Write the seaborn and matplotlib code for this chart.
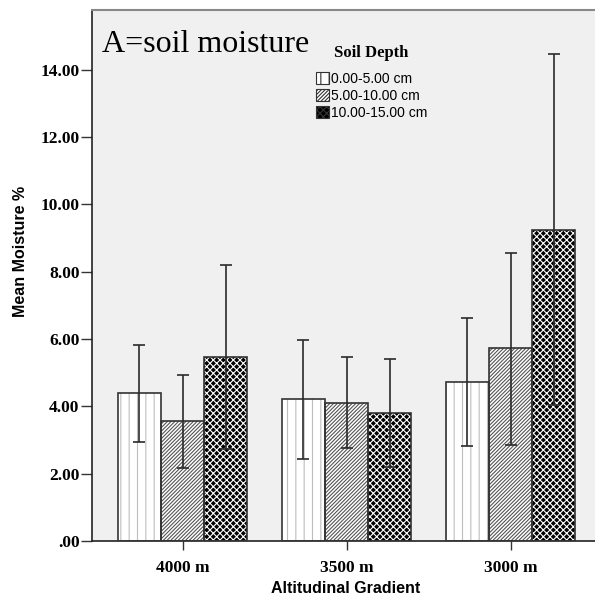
import matplotlib
matplotlib.use("Agg")
import matplotlib.pyplot as plt
from matplotlib.patches import Rectangle
from matplotlib.container import BarContainer
import seaborn as sns
import pandas as pd
import numpy as np

# ---- data ----
altitudes = ["4000 m", "3500 m", "3000 m"]
depths = ["0.00-5.00 cm", "5.00-10.00 cm", "10.00-15.00 cm"]
mean_0_5 = [4.41, 4.21, 4.72]
mean_5_10 = [3.56, 4.10, 5.73]
mean_10_15 = [5.46, 3.80, 9.24]
low_0_5 = [2.95, 2.43, 2.82]
low_5_10 = [2.16, 2.77, 2.85]
low_10_15 = [2.72, 2.20, 4.04]
high_0_5 = [5.83, 5.97, 6.62]
high_5_10 = [4.94, 5.47, 8.57]
high_10_15 = [8.20, 5.41, 14.48]
yticks = [0, 2, 4, 6, 8, 10, 12, 14]
ytick_labels = [".00", "2.00", "4.00", "6.00", "8.00", "10.00", "12.00", "14.00"]

means = [mean_0_5, mean_5_10, mean_10_15]
lows = [low_0_5, low_5_10, low_10_15]
highs = [high_0_5, high_5_10, high_10_15]

df = pd.DataFrame({
    "alt": [a for d in depths for a in altitudes],
    "depth": [d for d in depths for a in altitudes],
    "mean": [v for m in means for v in m],
})

W, H = 595, 605
plt.rcParams["hatch.linewidth"] = 0.8
fig = plt.figure(figsize=(W / 100, H / 100), dpi=100)
fig.patch.set_facecolor("white")
ax = fig.add_axes([92 / W, (H - 541) / H, (W - 92) / W, 531 / H])
ax.set_facecolor("#f0f0f0")

sns.barplot(data=df, x="alt", y="mean", hue="depth", order=altitudes,
            hue_order=depths, errorbar=None, width=0.79,
            palette=["white", "white", "black"], ax=ax, legend=False,
            saturation=1)

bar_conts = [c for c in ax.containers if isinstance(c, BarContainer)]

hatches = ["||", "/////////", "xxxxx"]
hatch_cols = ["#bdbdbd", "#555555", "white"]
for i, cont in enumerate(bar_conts):
    xs = []
    for p in cont.patches:
        p.set_hatch(hatches[i])
        p.set_edgecolor(hatch_cols[i])
        p.set_linewidth(0)
        ax.add_patch(Rectangle(p.get_xy(), p.get_width(), p.get_height(),
                               fill=False, ec="#333333", lw=1.2, zorder=3))
        xs.append(p.get_x() + p.get_width() / 2)
    m = np.array(means[i])
    yerr = np.vstack([m - np.array(lows[i]), np.array(highs[i]) - m])
    ax.errorbar(xs, m, yerr=yerr, fmt="none", ecolor="#2a2a2a",
                elinewidth=1.2, capsize=4, capthick=1.2, zorder=4)

ax.set_xlim(-0.552, 2.515)
ax.set_ylim(0, 15.78)
ax.set_yticks(yticks)
ax.set_yticklabels(ytick_labels)
ax.tick_params(axis="y", length=8, width=1, color="#333333", pad=1)
ax.tick_params(axis="x", length=6.5, width=1, color="#333333", pad=7)
for lab in ax.get_yticklabels() + ax.get_xticklabels():
    lab.set_fontfamily("Liberation Serif")
    lab.set_fontweight("bold")
    lab.set_fontsize(12.5)

for s in ["left", "bottom"]:
    ax.spines[s].set_color("#222222")
    ax.spines[s].set_linewidth(1.2)
ax.spines["top"].set_color("#888888")
ax.spines["top"].set_linewidth(1.5)
ax.spines["right"].set_visible(False)

ax.set_ylabel("Mean Moisture %", fontfamily="Liberation Sans",
              fontweight="bold", fontsize=11.5)
ax.set_xlabel("Altitudinal Gradient", fontfamily="Liberation Sans",
              fontweight="bold", fontsize=11.5)
ax.yaxis.set_label_coords(-0.127, 0.545)
ax.xaxis.set_label_coords(0.505, -0.075)

fig.text(102 / W, 1 - 52 / H, "A=soil moisture", fontfamily="Liberation Serif",
         fontsize=23, va="baseline", ha="left")

handles = [c.patches[0] for c in bar_conts]
leg = ax.legend(handles, depths, title="Soil Depth", loc="upper left",
                bbox_to_anchor=(316 / W, 1 - 45 / H),
                bbox_transform=fig.transFigure, frameon=False,
                prop={"family": "Liberation Sans", "size": 10},
                handlelength=0.95, handleheight=0.95, handletextpad=0.1,
                labelspacing=0.2, borderpad=0, borderaxespad=0)
leg.get_title().set_fontfamily("Liberation Serif")
leg.get_title().set_fontweight("bold")
leg.get_title().set_fontsize(12)
for h in leg.legend_handles:
    h.set_linewidth(0.8)
    h.set_edgecolor("#333333")
leg._legend_box.sep = 8

fig.savefig("out.png", dpi=100)
